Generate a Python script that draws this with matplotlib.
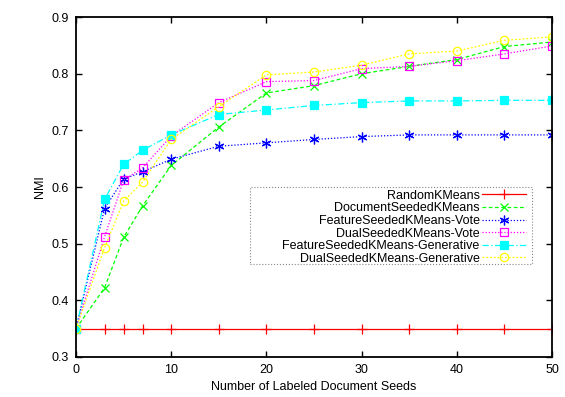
import matplotlib
matplotlib.use('Agg')
from matplotlib import pyplot as plt
from matplotlib.patches import Rectangle

# number of labeled document seeds
seeds = [0, 3, 5, 7, 10, 15, 20, 25, 30, 35, 40, 45, 50]

random_km = [0.35, 0.35, 0.35, 0.35, 0.35, 0.35, 0.35, 0.35, 0.35, 0.35, 0.35, 0.35, 0.35]
doc_seeded = [0.35, 0.422, 0.511, 0.567, 0.638, 0.706, 0.766, 0.779, 0.800, 0.813, 0.825, 0.848, 0.856]
feat_vote = [0.35, 0.562, 0.614, 0.627, 0.649, 0.672, 0.678, 0.684, 0.689, 0.692, 0.692, 0.692, 0.692]
dual_vote = [0.35, 0.512, 0.612, 0.634, 0.690, 0.749, 0.786, 0.788, 0.809, 0.813, 0.823, 0.835, 0.849]
feat_gen = [0.35, 0.578, 0.640, 0.665, 0.692, 0.728, 0.736, 0.744, 0.749, 0.752, 0.752, 0.753, 0.753]
dual_gen = [0.35, 0.493, 0.575, 0.609, 0.684, 0.742, 0.798, 0.803, 0.815, 0.835, 0.840, 0.859, 0.865]

labels = ['RandomKMeans', 'DocumentSeededKMeans', 'FeatureSeededKMeans-Vote',
          'DualSeededKMeans-Vote', 'FeatureSeededKMeans-Generative',
          'DualSeededKMeans-Generative']

plt.rcParams['font.family'] = ['Liberation Sans', 'DejaVu Sans']
plt.rcParams['font.size'] = 9

fig = plt.figure(figsize=(5.65, 3.97), dpi=100)
ax = fig.add_axes([0.1345, 0.1008, 0.8425, 0.8562])

lw = 0.9
ax.plot(seeds, random_km, color='#ff0000', lw=lw, ls='-', marker='+', ms=7, mew=0.9, label=labels[0])
ax.plot(seeds, doc_seeded, color='#00ff00', lw=lw, ls=(0, (3, 2)), marker='x', ms=6, mew=0.9, label=labels[1])
ax.plot(seeds, feat_vote, color='#0000ff', lw=lw, ls=(0, (1, 1.5)), marker=(6, 2, 0), ms=7, mew=0.9, label=labels[2])
ax.plot(seeds, dual_vote, color='#ff00ff', lw=lw, ls=(0, (1, 1.5)), marker='s', ms=5.5, mew=0.9,
        mfc='none', label=labels[3])
ax.plot(seeds, feat_gen, color='#00ffff', lw=lw, ls=(0, (5, 2, 1, 2)), marker='s', ms=5.5, mew=0.9, label=labels[4])
ax.plot(seeds, dual_gen, color='#ffff00', lw=lw, ls=(0, (1.5, 1.5)), marker='o', ms=6, mew=0.9,
        mfc='none', label=labels[5])

ax.set_xlim(0, 50)
ax.set_ylim(0.3, 0.9)
ax.set_xticks([0, 10, 20, 30, 40, 50])
ax.set_yticks([0.3, 0.4, 0.5, 0.6, 0.7, 0.8, 0.9])
ax.tick_params(direction='in', top=True, right=True, length=4, width=1, pad=5)
for s in ax.spines.values():
    s.set_linewidth(1.3)

ax.set_xlabel('Number of Labeled Document Seeds')
ax.set_ylabel('NMI')

# dotted legend box, drawn separately so it can be wider than the entries
box = Rectangle((0.3655, 0.274), 0.592, 0.226, transform=ax.transAxes, facecolor='white',
                edgecolor='#888888', linestyle=':', linewidth=0.8, zorder=4)
ax.add_patch(box)

leg = ax.legend(loc='upper right', bbox_to_anchor=(0.945, 0.492), frameon=False,
                markerfirst=False, handlelength=3.5, borderpad=0, labelspacing=0.05,
                handletextpad=0.2, borderaxespad=0)
leg.set_zorder(5)

plt.savefig('out.png', dpi=100)
